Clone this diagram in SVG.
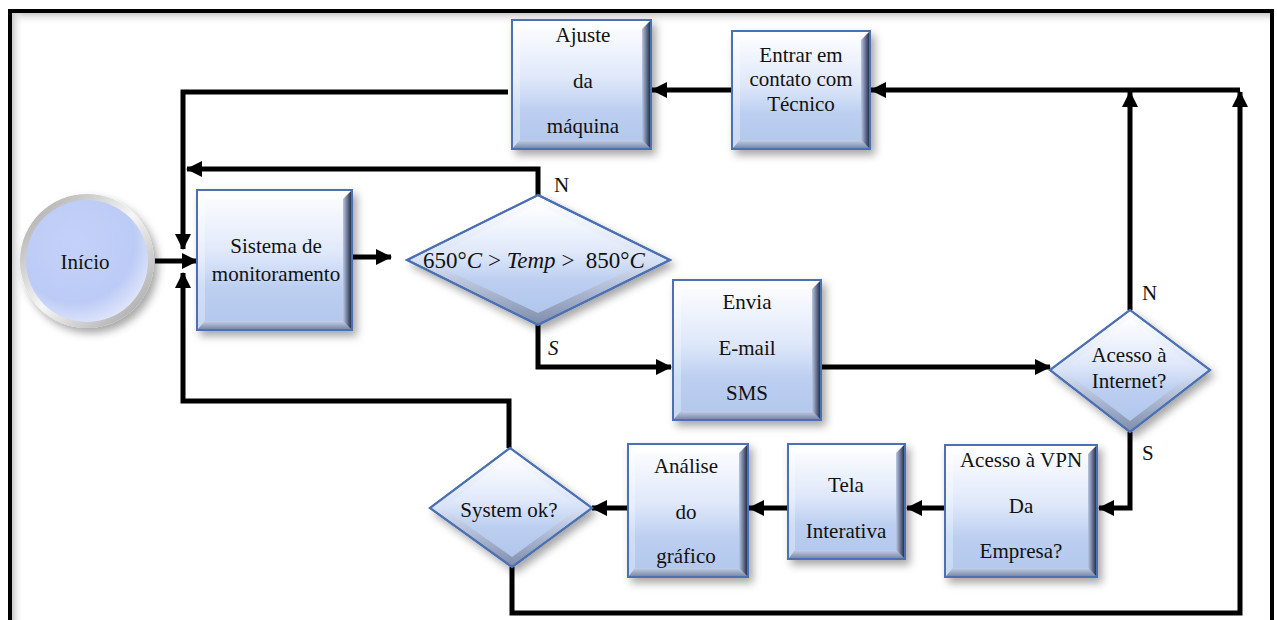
<svg xmlns="http://www.w3.org/2000/svg" width="1277" height="620" viewBox="0 0 1277 620">
<defs>
  <linearGradient id="body" x1="0" y1="0" x2="0" y2="1">
    <stop offset="0" stop-color="#ffffff"/>
    <stop offset="0.45" stop-color="#dfe8fa"/>
    <stop offset="0.7" stop-color="#bccff1"/>
    <stop offset="1" stop-color="#b2c6ec"/>
  </linearGradient>
  <linearGradient id="bevB" x1="0" y1="0" x2="0" y2="1">
    <stop offset="0" stop-color="#c3d0ea"/>
    <stop offset="1" stop-color="#7d8aa6"/>
  </linearGradient>
  <linearGradient id="bevR" x1="0" y1="0" x2="1" y2="0">
    <stop offset="0" stop-color="#b9c7e4"/>
    <stop offset="1" stop-color="#27324c"/>
  </linearGradient>
  <linearGradient id="diaOut" x1="0" y1="0" x2="0" y2="1">
    <stop offset="0" stop-color="#ffffff"/>
    <stop offset="0.5" stop-color="#d8e2f6"/>
    <stop offset="1" stop-color="#7e8cab"/>
  </linearGradient>
  <radialGradient id="circ" cx="0.4" cy="0.35" r="0.7">
    <stop offset="0" stop-color="#c4d2fa"/>
    <stop offset="0.7" stop-color="#bccbf6"/>
    <stop offset="1" stop-color="#e2e8fb"/>
  </radialGradient>
  <linearGradient id="ring" x1="0" y1="0" x2="1" y2="1">
    <stop offset="0" stop-color="#a0a0a0"/>
    <stop offset="0.5" stop-color="#f6f6f6"/>
    <stop offset="1" stop-color="#9a9a9a"/>
  </linearGradient>
  <linearGradient id="shTop" x1="0" y1="0" x2="0" y2="1">
    <stop offset="0" stop-color="#c8c8c8"/>
    <stop offset="1" stop-color="#ffffff" stop-opacity="0"/>
  </linearGradient>
  <linearGradient id="shLeft" x1="0" y1="0" x2="1" y2="0">
    <stop offset="0" stop-color="#c8c8c8"/>
    <stop offset="1" stop-color="#ffffff" stop-opacity="0"/>
  </linearGradient>
  <filter id="sh" x="-20%" y="-20%" width="150%" height="150%">
    <feDropShadow dx="4" dy="5" stdDeviation="4" flood-color="#000" flood-opacity="0.35"/>
  </filter>
  <marker id="ah" viewBox="0 0 16 16" refX="15" refY="8" markerWidth="16" markerHeight="16" markerUnits="userSpaceOnUse" orient="auto">
    <path d="M0,0 L16,8 L0,16 z" fill="#000"/>
  </marker>
</defs>
<style>
  text { font-family: "Liberation Serif", "Times New Roman", serif; font-size: 21px; fill: #111; text-anchor: middle; }
  .lbl { text-anchor: start; }
  .math { font-size: 23px; }
  .box { fill: url(#body); stroke: #4b70b3; stroke-width: 2; }
  .bt { fill: #ffffff; opacity: 0.55; }
  .bl { fill: #ffffff; opacity: 0.3; }
  .bb { fill: url(#bevB); }
  .br { fill: url(#bevR); }
  .edge { fill: none; stroke: #4b70b3; stroke-width: 2; }
  .dia { fill: url(#diaOut); stroke: #4b70b3; stroke-width: 2; }
  .diain { fill: url(#body); }
  .con { fill: none; stroke: #000; stroke-width: 5; stroke-linejoin: miter; stroke-linecap: butt; }
  .arr { marker-end: url(#ah); }
</style>

<rect x="0" y="0" width="1277" height="620" fill="#ffffff"/>
<g id="frame">
  <rect x="12" y="13" width="1258" height="12" fill="url(#shTop)"/>
  <rect x="12" y="13" width="12" height="610" fill="url(#shLeft)"/>
  <rect x="10" y="11" width="1262" height="640" fill="none" stroke="#000" stroke-width="4"/>
</g>

<g id="connectors">
  <path class="con arr" d="M155,261 H197"/>
  <path class="con arr" d="M508,92 H183 V249"/>
  <path class="con arr" d="M538,195 V169 H187"/>
  <path class="con arr" d="M509,448 V401 H183 V273"/>
  <path class="con arr" d="M352,257 H391"/>
  <path class="con arr" d="M538,325 V367 H671"/>
  <path class="con arr" d="M821,367 H1050"/>
  <path class="con arr" d="M1130,310 V92"/>
  <path class="con arr" d="M1130,432 V508 H1099"/>
  <path class="con arr" d="M945,508 H907"/>
  <path class="con arr" d="M788,508 H749"/>
  <path class="con arr" d="M628,508 H592"/>
  <path class="con arr" d="M512,567 V613 H1240 V92"/>
  <path class="con arr" d="M1240,90 H871"/>
  <path class="con arr" d="M732,90 H652"/>
</g>

<g id="inicio">
  <circle cx="87" cy="261" r="67" fill="url(#ring)" filter="url(#sh)"/>
  <circle cx="87" cy="261" r="61" fill="url(#circ)"/>
  <text x="85" y="269">Início</text>
</g>

<g id="sistema">
  <rect class="box" x="197" y="190" width="155" height="140" filter="url(#sh)"/>
  <polygon class="bt" points="198,191 351,191 343,199 205,199"/>
  <polygon class="bl" points="198,191 205,199 205,321 198,329"/>
  <polygon class="bb" points="198,329 205,321 343,321 351,329"/>
  <polygon class="br" points="351,191 351,329 343,321 343,199"/>
  <rect class="edge" x="197" y="190" width="155" height="140"/>
  <text x="276" y="253">Sistema de</text>
  <text x="276" y="281">monitoramento</text>
</g>

<g id="ajuste">
  <rect class="box" x="512" y="20" width="139" height="129" filter="url(#sh)"/>
  <polygon class="bt" points="513,21 650,21 642,29 520,29"/>
  <polygon class="bl" points="513,21 520,29 520,140 513,148"/>
  <polygon class="bb" points="513,148 520,140 642,140 650,148"/>
  <polygon class="br" points="650,21 650,148 642,140 642,29"/>
  <rect class="edge" x="512" y="20" width="139" height="129"/>
  <text x="583" y="42">Ajuste</text>
  <text x="583" y="88">da</text>
  <text x="583" y="133">máquina</text>
</g>

<g id="entrar">
  <rect class="box" x="732" y="31" width="138" height="118" filter="url(#sh)"/>
  <polygon class="bt" points="733,32 869,32 861,40 740,40"/>
  <polygon class="bl" points="733,32 740,40 740,140 733,148"/>
  <polygon class="bb" points="733,148 740,140 861,140 869,148"/>
  <polygon class="br" points="869,32 869,148 861,140 861,40"/>
  <rect class="edge" x="732" y="31" width="138" height="118"/>
  <text x="801" y="62">Entrar em</text>
  <text x="801" y="86">contato com</text>
  <text x="801" y="111">Técnico</text>
</g>

<g id="decisao-temp">
  <polygon class="dia" points="538,195 670,260 538,325 407,260" filter="url(#sh)"/>
  <polygon class="diain" points="538,204 651,260 538,313 425,260"/>
  <polygon class="edge" points="538,195 670,260 538,325 407,260"/>
  <text class="math" x="534" y="268" xml:space="preserve">650°<tspan font-style="italic">C</tspan> &gt; <tspan font-style="italic">Temp</tspan> &gt;  850°<tspan font-style="italic">C</tspan></text>
</g>

<g id="envia">
  <rect class="box" x="673" y="280" width="148" height="140" filter="url(#sh)"/>
  <polygon class="bt" points="674,281 820,281 812,289 681,289"/>
  <polygon class="bl" points="674,281 681,289 681,411 674,419"/>
  <polygon class="bb" points="674,419 681,411 812,411 820,419"/>
  <polygon class="br" points="820,281 820,419 812,411 812,289"/>
  <rect class="edge" x="673" y="280" width="148" height="140"/>
  <text x="747" y="309">Envia</text>
  <text x="747" y="355">E-mail</text>
  <text x="747" y="400">SMS</text>
</g>

<g id="decisao-internet">
  <polygon class="dia" points="1130,310 1210,370 1130,432 1050,370" filter="url(#sh)"/>
  <polygon class="diain" points="1130,318 1197,370 1130,421 1063,370"/>
  <polygon class="edge" points="1130,310 1210,370 1130,432 1050,370"/>
  <text x="1129" y="362">Acesso à</text>
  <text x="1129" y="388">Internet?</text>
</g>

<g id="vpn">
  <rect class="box" x="945" y="445" width="152" height="132" filter="url(#sh)"/>
  <polygon class="bt" points="946,446 1096,446 1088,454 953,454"/>
  <polygon class="bl" points="946,446 953,454 953,568 946,576"/>
  <polygon class="bb" points="946,576 953,568 1088,568 1096,576"/>
  <polygon class="br" points="1096,446 1096,576 1088,568 1088,454"/>
  <rect class="edge" x="945" y="445" width="152" height="132"/>
  <text x="1021" y="467">Acesso à VPN</text>
  <text x="1021" y="513">Da</text>
  <text x="1021" y="558">Empresa?</text>
</g>

<g id="tela">
  <rect class="box" x="788" y="444" width="117" height="115" filter="url(#sh)"/>
  <polygon class="bt" points="789,445 904,445 896,453 795,453"/>
  <polygon class="bl" points="789,445 795,453 795,550 789,558"/>
  <polygon class="bb" points="789,558 795,550 896,550 904,558"/>
  <polygon class="br" points="904,445 904,558 896,550 896,453"/>
  <rect class="edge" x="788" y="444" width="117" height="115"/>
  <text x="846" y="492">Tela</text>
  <text x="846" y="538">Interativa</text>
</g>

<g id="analise">
  <rect class="box" x="628" y="444" width="120" height="133" filter="url(#sh)"/>
  <polygon class="bt" points="629,445 747,445 739,453 635,453"/>
  <polygon class="bl" points="629,445 635,453 635,568 629,576"/>
  <polygon class="bb" points="629,576 635,568 739,568 747,576"/>
  <polygon class="br" points="747,445 747,576 739,568 739,453"/>
  <rect class="edge" x="628" y="444" width="120" height="133"/>
  <text x="686" y="473">Análise</text>
  <text x="686" y="519">do</text>
  <text x="686" y="563">gráfico</text>
</g>

<g id="decisao-system">
  <polygon class="dia" points="510,448 592,508 512,567 430,508" filter="url(#sh)"/>
  <polygon class="diain" points="510,456 579,508 512,557 443,508"/>
  <polygon class="edge" points="510,448 592,508 512,567 430,508"/>
  <text x="509" y="517">System ok?</text>
</g>

<g id="labels">
  <text class="lbl" x="554" y="192">N</text>
  <text class="lbl" x="548" y="355" font-style="italic">S</text>
  <text class="lbl" x="1142" y="300">N</text>
  <text class="lbl" x="1142" y="460">S</text>
</g>
</svg>
